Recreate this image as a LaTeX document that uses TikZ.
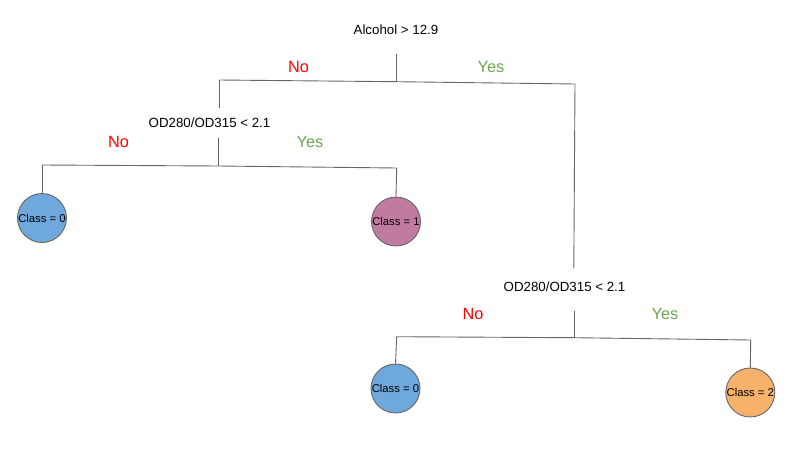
\documentclass[tikz,border=0pt]{standalone}
\usepackage{fontspec}
\setmainfont{Liberation Sans}
\definecolor{cblue}{HTML}{6FA8DC}
\definecolor{cpurple}{HTML}{C27BA0}
\definecolor{corange}{HTML}{F6B26B}
\definecolor{cred}{HTML}{FF0000}
\definecolor{cgreen}{HTML}{6AA84F}
\definecolor{cline}{HTML}{666666}
\begin{document}
\begin{tikzpicture}[x=1pt,y=-1pt,
  cond/.style={inner sep=0pt,font=\fontsize{13.3}{15}\selectfont},
  nolab/.style={inner sep=0pt,text=cred,font=\fontsize{16.3}{18}\selectfont},
  yeslab/.style={inner sep=0pt,text=cgreen,font=\fontsize{16.3}{18}\selectfont},
  leaf/.style={circle,draw=cline,line width=0.9pt,minimum size=49pt,inner sep=0pt,font=\fontsize{11.3}{12}\selectfont},
  edge/.style={draw=cline,line width=0.9pt}]
\useasboundingbox (0,0) rectangle (804,458);
% root
\node[cond] (root) at (396,30) {Alcohol > 12.9};
\coordinate (r0) at (396.7,54);
\coordinate (rj) at (396.7,81.7);
\coordinate (rl) at (219.3,80);
\coordinate (rr) at (575,84);
\node[nolab] (n1) at (298.5,67) {No};
\node[yeslab] (y1) at (491,67) {Yes};
\draw[edge] (r0) -- (rj);
\draw[edge] (rl) -- (rj) -- (rr);
% left subtree
\coordinate (l0) at (219.3,108);
\draw[edge] (rl) -- (l0);
\node[cond] (od1) at (209.5,123) {OD280/OD315 < 2.1};
\coordinate (l1) at (218.5,137.7);
\coordinate (lj) at (218.5,166);
\coordinate (ll) at (42,165);
\coordinate (lr) at (396.7,168);
\draw[edge] (l1) -- (lj);
\draw[edge] (ll) -- (lj) -- (lr);
\node[nolab] (n2) at (118.5,141.5) {No};
\node[yeslab] (y2) at (310,141.5) {Yes};
\node[leaf,fill=cblue] (c0a) at (42,218) {Class = 0};
\node[leaf,fill=cpurple] (c1) at (396,221.5) {Class = 1};
\draw[edge] (ll) -- (c0a.north);
\draw[edge] (lr) -- (c1.north);
% right subtree
\coordinate (rr1) at (573.8,268);
\draw[edge] (rr) -- (rr1);
\node[cond] (od2) at (564.5,286.5) {OD280/OD315 < 2.1};
\coordinate (q1) at (574,310.7);
\coordinate (qj) at (574,337.7);
\coordinate (ql) at (396.7,336.7);
\coordinate (qr) at (750.7,340);
\draw[edge] (q1) -- (qj);
\draw[edge] (ql) -- (qj) -- (qr);
\node[nolab] (n3) at (473,314) {No};
\node[yeslab] (y3) at (665,314) {Yes};
\node[leaf,fill=cblue] (c0b) at (395.5,388.5) {Class = 0};
\node[leaf,fill=corange] (c2) at (750.3,392.5) {Class = 2};
\draw[edge] (ql) -- (c0b.north);
\draw[edge] (qr) -- (c2.north);
\end{tikzpicture}
\end{document}
